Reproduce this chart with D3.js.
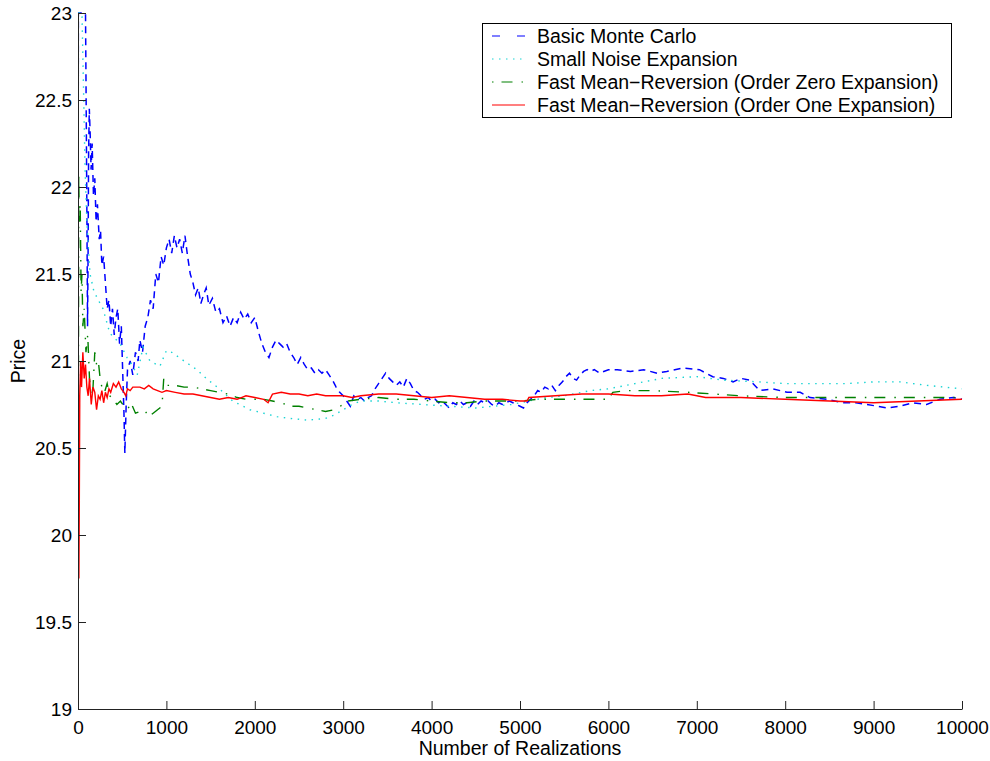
<!DOCTYPE html>
<html>
<head>
<meta charset="utf-8">
<script src="https://cdn.jsdelivr.net/npm/d3@7"></script>
<style>
  body { margin: 0; background: #fff; }
  text { font-family: "Liberation Sans", Arial, Helvetica, sans-serif; }
</style>
</head>
<body>
<svg id="chart" width="990" height="761"></svg>
<script>
// values: [number of realizations, price]
const xTicks = [0, 1000, 2000, 3000, 4000, 5000, 6000, 7000, 8000, 9000, 10000];
const yTicks = [19, 19.5, 20, 20.5, 21, 21.5, 22, 22.5, 23];

const basicMC = [
  [1,21.6],[4,23.4],[40,23.5],[85,23.4],[92,22.5],[100,21.9],[108,21.2],[114,21.6],[120,22.2],[128,22.45],
  [138,22.3],[148,22.1],[160,22.25],[175,21.95],[190,22.05],[205,21.8],[220,21.9],[240,21.7],[255,21.75],
  [270,21.55],[290,21.6],[310,21.45],[330,21.3],[350,21.35],[370,21.2],[390,21.3],[410,21.15],[430,21.25],
  [450,21.3],[470,21.1],[490,21.2],[505,20.95],[520,20.7],[530,20.47],[545,20.75],[560,20.95],[590,21.0],
  [620,20.92],[650,21.05],[680,21.0],[700,21.12],[730,21.05],[760,21.2],[790,21.25],[820,21.35],[850,21.3],
  [880,21.5],[910,21.45],[940,21.6],[970,21.55],[1000,21.65],[1030,21.7],[1060,21.62],[1090,21.72],
  [1120,21.65],[1150,21.7],[1180,21.62],[1210,21.72],[1240,21.6],[1270,21.5],[1300,21.45],[1330,21.38],
  [1360,21.42],[1390,21.33],[1420,21.38],[1450,21.42],[1480,21.32],[1520,21.36],[1560,21.28],[1600,21.3],
  [1640,21.22],[1680,21.26],[1720,21.2],[1760,21.25],[1800,21.22],[1840,21.28],[1880,21.24],[1920,21.27],
  [1960,21.22],[2000,21.25],[2040,21.17],[2080,21.1],[2120,21.05],[2160,21.02],[2200,21.08],[2240,21.12],
  [2280,21.1],[2320,21.08],[2360,21.1],[2400,21.05],[2440,21.02],[2480,20.98],[2520,21.02],[2560,20.98],
  [2600,20.95],[2640,20.96],[2680,20.93],[2720,20.95],[2760,20.93],[2800,20.95],[2840,20.92],[2880,20.89],
  [2920,20.85],[2960,20.82],[3000,20.8],[3040,20.77],[3080,20.74],[3120,20.8],[3160,20.78],[3200,20.79],
  [3240,20.77],[3280,20.79],[3320,20.8],[3360,20.84],[3400,20.87],[3440,20.9],[3480,20.93],[3520,20.9],
  [3560,20.88],[3600,20.86],[3640,20.88],[3680,20.85],[3720,20.9],[3760,20.87],[3800,20.83],[3840,20.82],
  [3880,20.8],[3920,20.78],[3960,20.79],[4000,20.77],[4040,20.78],[4080,20.76],[4120,20.77],[4160,20.75],
  [4200,20.73],[4240,20.76],[4280,20.75],[4320,20.77],[4360,20.75],[4400,20.76],[4440,20.74],[4480,20.77],
  [4520,20.75],[4560,20.77],[4600,20.76],[4640,20.77],[4680,20.75],[4720,20.74],[4760,20.76],[4800,20.75],
  [4840,20.76],[4880,20.77],[4920,20.76],[4960,20.75],[5000,20.74],[5040,20.73],[5080,20.76],[5120,20.78],
  [5160,20.8],[5200,20.83],[5240,20.82],[5280,20.85],[5320,20.84],[5360,20.86],[5400,20.83],[5440,20.86],
  [5480,20.88],[5520,20.91],[5560,20.93],[5600,20.9],[5640,20.89],[5680,20.92],[5720,20.94],[5760,20.95],
  [5800,20.94],[5840,20.95],[5900,20.93],[6000,20.95],[6100,20.95],[6250,20.94],[6400,20.95],[6550,20.93],
  [6660,20.94],[6840,20.96],[7030,20.95],[7180,20.91],[7300,20.9],[7410,20.88],[7500,20.9],[7600,20.89],
  [7710,20.83],[7860,20.84],[8020,20.82],[8170,20.82],[8280,20.79],[8470,20.78],[8650,20.76],[8800,20.76],
  [8920,20.75],[9050,20.74],[9150,20.73],[9300,20.74],[9440,20.76],[9600,20.75],[9750,20.78],[9900,20.79],
  [10000,20.78]
];

const smallNoise = [
  [1,19.5],[4,23.6],[20,24],[45,23.1],[65,22.5],[80,22.1],[100,21.8],[136,21.5],[180,21.4],[230,21.35],
  [283,21.3],[360,21.16],[475,21.1],[554,21.02],[620,20.97],[670,20.92],[735,21.08],[814,21.0],[927,20.97],
  [1000,21.06],[1060,21.05],[1200,21.0],[1345,20.95],[1450,20.9],[1600,20.84],[1750,20.77],[1945,20.72],
  [2100,20.7],[2250,20.68],[2400,20.67],[2600,20.66],[2800,20.67],[2900,20.69],[3000,20.72],[3100,20.75],
  [3200,20.77],[3400,20.77],[3600,20.76],[3900,20.75],[4200,20.74],[4500,20.73],[4700,20.74],[4900,20.75],
  [5100,20.77],[5300,20.79],[5500,20.8],[5800,20.83],[6000,20.84],[6300,20.87],[6600,20.9],[7000,20.91],
  [7300,20.89],[7700,20.88],[8000,20.87],[8400,20.87],[8700,20.87],[9000,20.88],[9300,20.88],[9600,20.86],
  [10000,20.84]
];

const orderZero = [
  [1,19.05],[4,20.5],[8,22.08],[15,21.8],[25,21.9],[35,21.4],[45,21.5],[55,21.2],[70,21.3],[90,21.05],
  [110,21.15],[130,20.9],[150,20.8],[170,20.85],[190,21.05],[210,20.98],[230,21.0],[250,20.9],[270,20.85],
  [300,20.82],[330,20.87],[360,20.8],[400,20.78],[440,20.75],[480,20.77],[520,20.74],[560,20.72],[600,20.76],
  [650,20.7],[700,20.71],[750,20.72],[800,20.68],[850,20.7],[900,20.72],[950,20.74],[970,20.9],[1000,20.86],
  [1100,20.86],[1200,20.85],[1300,20.85],[1400,20.84],[1500,20.83],[1600,20.82],[1700,20.81],[1800,20.79],
  [1900,20.78],[2000,20.78],[2100,20.78],[2200,20.77],[2300,20.76],[2400,20.74],[2500,20.74],[2600,20.73],
  [2700,20.72],[2800,20.71],[2900,20.72],[3000,20.75],[3050,20.77],[3200,20.78],[3400,20.79],[3600,20.78],
  [3800,20.78],[4000,20.77],[4200,20.76],[4400,20.76],[4600,20.77],[4800,20.77],[5000,20.77],[5200,20.78],
  [5500,20.78],[5800,20.78],[6000,20.78],[6050,20.82],[6200,20.83],[6500,20.83],[6900,20.82],[7200,20.81],
  [7500,20.8],[8000,20.79],[8500,20.79],[9000,20.79],[9500,20.79],[10000,20.79]
];

const orderOne = [
  [1,21.6],[6,20.3],[10,19.75],[15,20.2],[20,20.8],[30,21.0],[40,20.85],[55,21.05],[70,20.9],[85,20.98],
  [100,20.85],[115,20.8],[130,20.9],[150,20.75],[170,20.85],[190,20.82],[210,20.72],[230,20.8],[250,20.78],
  [270,20.83],[290,20.76],[310,20.82],[330,20.79],[350,20.84],[370,20.82],[400,20.87],[430,20.85],
  [460,20.88],[490,20.84],[520,20.82],[540,20.8],[560,20.84],[590,20.83],[620,20.85],[660,20.85],
  [700,20.85],[750,20.84],[800,20.86],[850,20.84],[900,20.83],[950,20.82],[1000,20.83],[1100,20.82],
  [1200,20.81],[1300,20.81],[1400,20.8],[1500,20.79],[1600,20.78],[1700,20.79],[1800,20.78],[1900,20.8],
  [2000,20.79],[2100,20.78],[2150,20.76],[2200,20.81],[2300,20.82],[2400,20.81],[2500,20.81],[2600,20.8],
  [2700,20.81],[2800,20.8],[3000,20.8],[3100,20.79],[3200,20.8],[3400,20.81],[3600,20.81],[3800,20.8],
  [4000,20.79],[4200,20.8],[4400,20.79],[4600,20.78],[4800,20.78],[5000,20.77],[5080,20.77],[5100,20.79],
  [5400,20.8],[5700,20.81],[6000,20.81],[6300,20.8],[6600,20.8],[6900,20.81],[7100,20.79],[7500,20.79],
  [8000,20.78],[8500,20.77],[9000,20.76],[9500,20.77],[10000,20.78]
];

const seriesNames = [
  "Basic Monte Carlo",
  "Small Noise Expansion",
  "Fast Mean\u2212Reversion (Order Zero Expansion)",
  "Fast Mean\u2212Reversion (Order One Expansion)"
];

var svg = d3.select("#chart");

var x = d3.scaleLinear().domain([0, 10000]).range([78, 962]);
var y = d3.scaleLinear().domain([19, 23]).range([709, 13]).clamp(true);

var styles = [
  { color: "#0000ff", dash: "7,5", width: 1.5 },
  { color: "#19d4d4", dash: "1.5,5.5", width: 1.4 },
  { color: "#008000", dash: "1.5,8,11,9", width: 1.4 },
  { color: "#ff0000", dash: null, width: 1.4 }
];
var allSeries = [basicMC, smallNoise, orderZero, orderOne];

svg.append("clipPath").attr("id", "plot-clip")
  .append("rect")
  .attr("x", 78).attr("y", 12).attr("width", 885).attr("height", 698);

var line = d3.line()
  .x(function(d) { return x(d[0]); })
  .y(function(d) { return y(d[1]); });

var plot = svg.append("g").attr("clip-path", "url(#plot-clip)");
allSeries.forEach(function(data, i) {
  plot.append("path")
    .datum(data)
    .attr("fill", "none")
    .attr("stroke", styles[i].color)
    .attr("stroke-width", styles[i].width)
    .attr("stroke-dasharray", styles[i].dash)
    .attr("d", line);
});

// axes, ticks pointing inward like matlab
var yAxis = svg.append("g")
  .attr("transform", "translate(78,0)")
  .call(d3.axisLeft(y).tickValues(yTicks).tickSizeInner(-8).tickSizeOuter(0).tickPadding(6)
    .tickFormat(function(d) { return d; }));

var xAxis = svg.append("g")
  .attr("transform", "translate(0,709)")
  .call(d3.axisBottom(x).tickValues(xTicks).tickSizeInner(-8).tickSizeOuter(0).tickPadding(12)
    .tickFormat(function(d) { return d; }));

[yAxis, xAxis].forEach(function(ax) {
  ax.selectAll("path").attr("stroke", "#222").attr("stroke-width", 1);
  ax.selectAll("line").attr("stroke", "#222");
  ax.selectAll("text").attr("fill", "#000").style("font-size", "19px")
    .style("font-family", "'Liberation Sans', Arial, sans-serif");
});

svg.append("text")
  .attr("x", 520).attr("y", 755)
  .attr("text-anchor", "middle")
  .style("font-size", "19.5px")
  .text("Number of Realizations");

svg.append("text")
  .attr("transform", "translate(25,361) rotate(-90)")
  .attr("text-anchor", "middle")
  .style("font-size", "19.5px")
  .text("Price");

// legend
var legend = svg.append("g");
legend.append("rect")
  .attr("x", 482.5).attr("y", 23.5).attr("width", 469).attr("height", 94)
  .attr("fill", "#fff").attr("stroke", "#000").attr("stroke-width", 1);

seriesNames.forEach(function(name, i) {
  var cy = 36 + i * 23;
  legend.append("line")
    .attr("x1", 492).attr("x2", 525)
    .attr("y1", cy).attr("y2", cy)
    .attr("stroke", styles[i].color)
    .attr("stroke-width", 1.2)
    .attr("stroke-dasharray", i === 0 ? "8,17" : styles[i].dash);
  legend.append("text")
    .attr("x", 537).attr("y", cy + 7)
    .style("font-size", "19.5px")
    .text(name);
});
</script>
</body>
</html>
